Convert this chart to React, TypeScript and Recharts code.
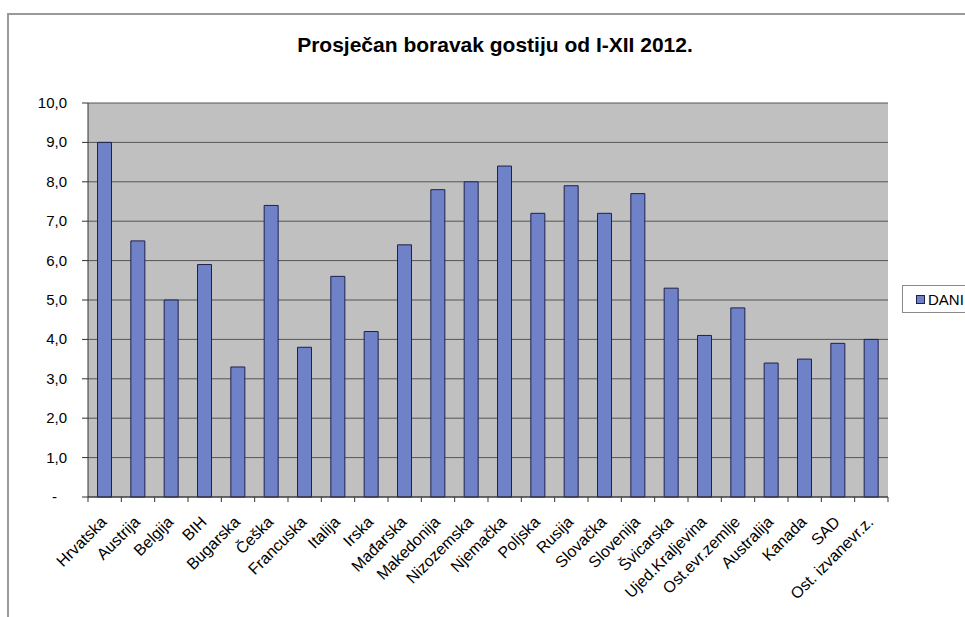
import React from 'react';
import { BarChart, Bar, XAxis, YAxis, CartesianGrid } from 'recharts';

const categories = [
  'Hrvatska', 'Austrija', 'Belgija', 'BIH', 'Bugarska', 'Češka', 'Francuska', 'Italija',
  'Irska', 'Mađarska', 'Makedonija', 'Nizozemska', 'Njemačka', 'Poljska', 'Rusija', 'Slovačka',
  'Slovenija', 'Švicarska', 'Ujed.Kraljevina', 'Ost.evr.zemlje', 'Australija', 'Kanada', 'SAD',
  'Ost. izvanevr.z.',
];

const dani = [
  9.0, 6.5, 5.0, 5.9, 3.3, 7.4, 3.8, 5.6,
  4.2, 6.4, 7.8, 8.0, 8.4, 7.2, 7.9, 7.2,
  7.7, 5.3, 4.1, 4.8, 3.4, 3.5, 3.9, 4.0,
];

const yTicks = [0, 1, 2, 3, 4, 5, 6, 7, 8, 9, 10];

const FONT = '"Liberation Sans", Arial, sans-serif';
const BAR_FILL = '#6F82C8';
const BAR_STROKE = '#1E2050';

const chartData = categories.map((name, i) => ({ name, DANI: dani[i] }));

const fmtY = (v: number) => (v === 0 ? '-' : v.toFixed(1).replace('.', ','));

function XTick(props: any) {
  const { x, y, payload, index, width } = props;
  const band = (width || 800) / categories.length;
  const last = index === categories.length - 1;
  return (
    <g transform={`translate(${x},${y})`}>
      <line x1={-band / 2} y1={0} x2={-band / 2} y2={5} stroke="#333" />
      {last && <line x1={band / 2} y1={0} x2={band / 2} y2={5} stroke="#333" />}
      <text
        x={3}
        y={26}
        textAnchor="end"
        transform="rotate(-45, 3, 26)"
        fontSize={16}
        fontFamily={FONT}
        fill="#000"
      >
        {payload.value}
      </text>
    </g>
  );
}

function YTick(props: any) {
  const { x, y, payload } = props;
  const zero = payload.value === 0;
  return (
    <text
      x={zero ? x - 10 : x}
      y={y}
      dy={5}
      textAnchor="end"
      fontSize={15}
      fontFamily={FONT}
      fill="#000"
    >
      {fmtY(payload.value)}
    </text>
  );
}

export default function App() {
  return (
    <div
      style={{
        position: 'absolute',
        left: 0,
        top: 0,
        width: 965,
        height: 617,
        overflow: 'hidden',
        background: '#fff',
      }}
    >
      <div
        style={{
          position: 'absolute',
          left: 7,
          top: 13,
          width: 1100,
          height: 700,
          borderLeft: '2px solid #9a9a9a',
          borderTop: '2px solid #9a9a9a',
        }}
      />
      <div
        style={{
          position: 'absolute',
          left: 0,
          top: 33,
          width: 990,
          textAlign: 'center',
          fontFamily: FONT,
          fontWeight: 'bold',
          fontSize: 21,
          lineHeight: 'normal',
        }}
      >
        Prosječan boravak gostiju od I-XII 2012.
      </div>
      <div style={{ position: 'absolute', left: 0, top: 0 }}>
        <BarChart
          width={965}
          height={617}
          data={chartData}
          margin={{ top: 103, right: 77, left: 28, bottom: 0 }}
          barCategoryGap="28.5%"
        >
          <CartesianGrid vertical={false} fill="#C0C0C0" stroke="#555" fillOpacity={1} />
          <XAxis
            dataKey="name"
            interval={0}
            height={120}
            tickSize={0}
            tickMargin={0}
            tickLine={false}
            axisLine={{ stroke: '#333' }}
            tick={<XTick />}
          />
          <YAxis
            width={60}
            domain={[0, 10]}
            ticks={yTicks}
            interval={0}
            tickSize={6}
            tickMargin={15}
            axisLine={{ stroke: '#333' }}
            tickLine={{ stroke: '#333' }}
            tick={<YTick />}
          />
          <YAxis
            yAxisId="r"
            orientation="right"
            width={0}
            domain={[0, 10]}
            tick={false}
            tickLine={false}
            axisLine={{ stroke: '#8a8a8a' }}
          />
          <Bar
            dataKey="DANI"
            fill={BAR_FILL}
            stroke={BAR_STROKE}
            strokeWidth={1}
            isAnimationActive={false}
          />
        </BarChart>
      </div>
      <div
        style={{
          position: 'absolute',
          left: 902,
          top: 285,
          width: 90,
          height: 26,
          border: '1px solid #8a8a8a',
          background: '#fff',
          display: 'flex',
          alignItems: 'center',
          fontFamily: FONT,
          fontSize: 15,
        }}
      >
        <span
          style={{
            display: 'inline-block',
            width: 7,
            height: 7,
            background: BAR_FILL,
            border: `1px solid ${BAR_STROKE}`,
            marginLeft: 13,
            marginRight: 3,
          }}
        />
        DANI
      </div>
    </div>
  );
}
